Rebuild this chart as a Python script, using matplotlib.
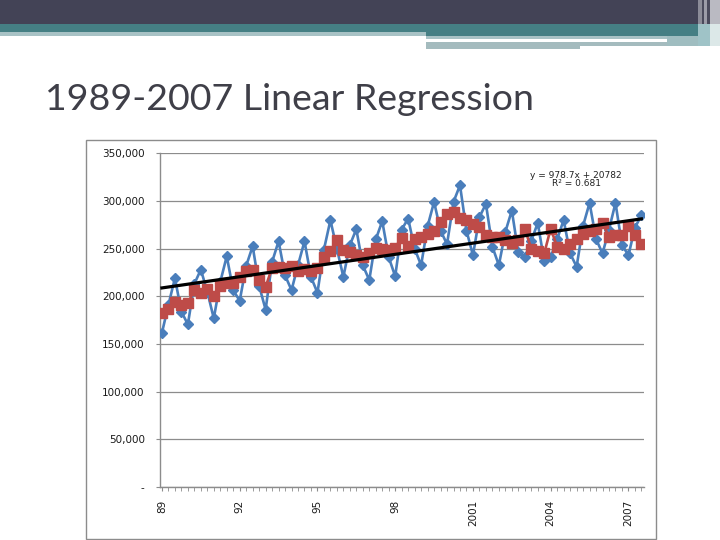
import matplotlib
matplotlib.use("Agg")
import matplotlib.pyplot as plt
from matplotlib.patches import Rectangle
from matplotlib.ticker import FixedLocator, NullFormatter

# ---------------- data ----------------
title = "1989-2007 Linear Regression"

# quarterly observations, 1989 Q1 .. 2007 Q3
actual = [
    161.7, 191.0, 219.0, 184.0, 170.5, 213.0, 228.0, 205.0,
    176.8, 215.0, 242.0, 206.5, 195.3, 232.0, 252.5, 211.0,
    186.0, 236.0, 257.8, 222.0, 206.5, 232.6, 257.8, 220.4,
    203.7, 249.0, 279.8, 250.0, 220.4, 253.7, 270.4, 232.6,
    217.0, 259.6, 278.8, 241.0, 221.0, 270.0, 281.6, 250.0,
    232.6, 273.5, 299.0, 269.0, 254.6, 299.0, 316.5, 269.0,
    243.0, 283.0, 297.0, 252.0, 232.6, 267.6, 290.0, 246.0,
    241.0, 258.0, 277.0, 237.0, 241.0, 260.0, 280.0, 245.0,
    231.0, 274.0, 298.0, 260.0, 245.0, 270.0, 298.0, 254.0,
    243.0, 272.0, 285.0,
]
deseasonalized = [
    182.0, 187.0, 194.0, 190.7, 192.5, 207.0, 203.0, 208.0,
    200.0, 210.6, 214.0, 213.5, 220.4, 226.7, 227.4, 217.6,
    210.0, 229.9, 231.0, 230.0, 231.6, 226.7, 229.0, 226.7,
    230.0, 241.0, 248.0, 258.8, 249.0, 246.6, 243.0, 241.0,
    245.0, 251.0, 250.0, 249.0, 251.0, 261.6, 252.6, 260.6,
    262.3, 265.0, 268.6, 278.0, 286.8, 288.5, 282.6, 279.8,
    275.6, 272.8, 264.0, 262.3, 262.3, 258.8, 256.0, 258.8,
    271.0, 250.0, 248.0, 245.0, 271.0, 251.8, 250.0, 255.0,
    260.6, 265.8, 269.0, 271.0, 277.0, 262.3, 264.0, 264.0,
    273.5, 264.0, 254.6,
]
actual = [v * 1000 for v in actual]
deseasonalized = [v * 1000 for v in deseasonalized]

y_ticks = [0, 50000, 100000, 150000, 200000, 250000, 300000, 350000]
y_tick_labels = ["-", "50,000", "100,000", "150,000", "200,000",
                 "250,000", "300,000", "350,000"]
x_tick_positions = [0, 12, 24, 36, 48, 60, 72]
x_tick_labels = ["89", "92", "95", "98", "2001", "2004", "2007"]

trend_slope = 978.7
trend_intercept = 207820.0
eq_text = "y = 978.7x + 20782"
r2_text = "R² = 0.681"

# ---------------- figure ----------------
W, H = 720, 540
fig = plt.figure(figsize=(W / 100, H / 100), dpi=100)
fig.patch.set_facecolor("white")

bg = fig.add_axes([0, 0, 1, 1])
bg.set_xlim(0, W)
bg.set_ylim(H, 0)
bg.axis("off")

def rect(x, y, w, h, c, z=1):
    bg.add_patch(Rectangle((x, y), w, h, facecolor=c, edgecolor="none", zorder=z))

# slide header
rect(0, 0, 698, 24, "#434356")
rect(0, 24, 698, 8, "#457F84")
rect(426, 32, 272, 4, "#457F84")
rect(0, 32, 426, 4, "#A8C2C5")
rect(426, 36, 241, 3, "#A8C2C5")
rect(667, 36, 31, 10, "#9FBDC0")
rect(426, 42, 154, 7, "#A4BBBE")
rect(580, 42, 87, 4, "#A4BBBE")
# right edge stripes
rect(698, 0, 22, 24, "#4A4A5C")
rect(698, 0, 4, 24, "#8C8C98")
rect(704, 0, 3, 24, "#9C9CA8")
rect(710, 0, 10, 24, "#BABAC2")
rect(698, 24, 22, 22, "#9FC3C7")
rect(710, 24, 10, 22, "#DCE8E8")

# title, fitted to its width in the reference
t = bg.text(45, 110, title, fontsize=28, family="Lato", color="#3F3F48",
            va="baseline", ha="left")
fig.canvas.draw()
ext = t.get_window_extent()
t.set_fontsize(28 * 488.0 / ext.width)

# chart frame
bg.add_patch(Rectangle((86, 140), 570, 399, facecolor="white",
                       edgecolor="#8C8C8C", lw=1.0, zorder=2))

# ---------------- chart axes ----------------
left, right, top, bottom = 160, 644, 153.3, 487
ax = fig.add_axes([left / W, (H - bottom) / H, (right - left) / W, (bottom - top) / H])
ax.patch.set_alpha(0)

x = list(range(len(actual)))
ax.plot(x, actual, color="#4A7EBB", lw=1.9, marker="D", ms=5,
        markerfacecolor="#4A7EBB", markeredgecolor="#4A7EBB", zorder=3)
ax.plot(x, deseasonalized, color="#BE4B48", lw=1.9, marker="s", ms=7,
        markerfacecolor="#BE4B48", markeredgecolor="#BE4B48", zorder=4)
trend_x = [x[0], x[-1]]
trend_y = [trend_slope * (xi + 1) + trend_intercept for xi in trend_x]
ax.plot(trend_x, trend_y, color="black", lw=2.3, zorder=5)

ax.set_ylim(0, 350000)
ax.set_xlim(-0.3, 74.4)

ax.set_yticks(y_ticks)
ax.set_yticklabels(y_tick_labels, fontsize=7.5, color="#1A1A1A")
ax.yaxis.grid(True, color="#8C8C8C", lw=0.9)
ax.set_axisbelow(True)

ax.set_xticks(x_tick_positions)
ax.set_xticklabels(x_tick_labels, rotation=90, fontsize=7.5, color="#1A1A1A",
                   va="top", ha="center")
ax.xaxis.set_minor_locator(FixedLocator(x))
ax.xaxis.set_minor_formatter(NullFormatter())

for s in ["top", "right"]:
    ax.spines[s].set_visible(False)
for s in ["left", "bottom"]:
    ax.spines[s].set_color("#8C8C8C")
    ax.spines[s].set_linewidth(1.0)

ax.tick_params(axis="y", which="major", length=3, color="#8C8C8C", pad=8)
ax.tick_params(axis="x", which="both", length=3, color="#8C8C8C", pad=6)

# regression label
bg.text(576, 175, eq_text, fontsize=6.5, ha="center", va="center", color="#222222", zorder=6)
bg.text(576, 183.5, r2_text, fontsize=6.5, ha="center", va="center", color="#222222", zorder=6)

fig.savefig("out.png", dpi=100)
